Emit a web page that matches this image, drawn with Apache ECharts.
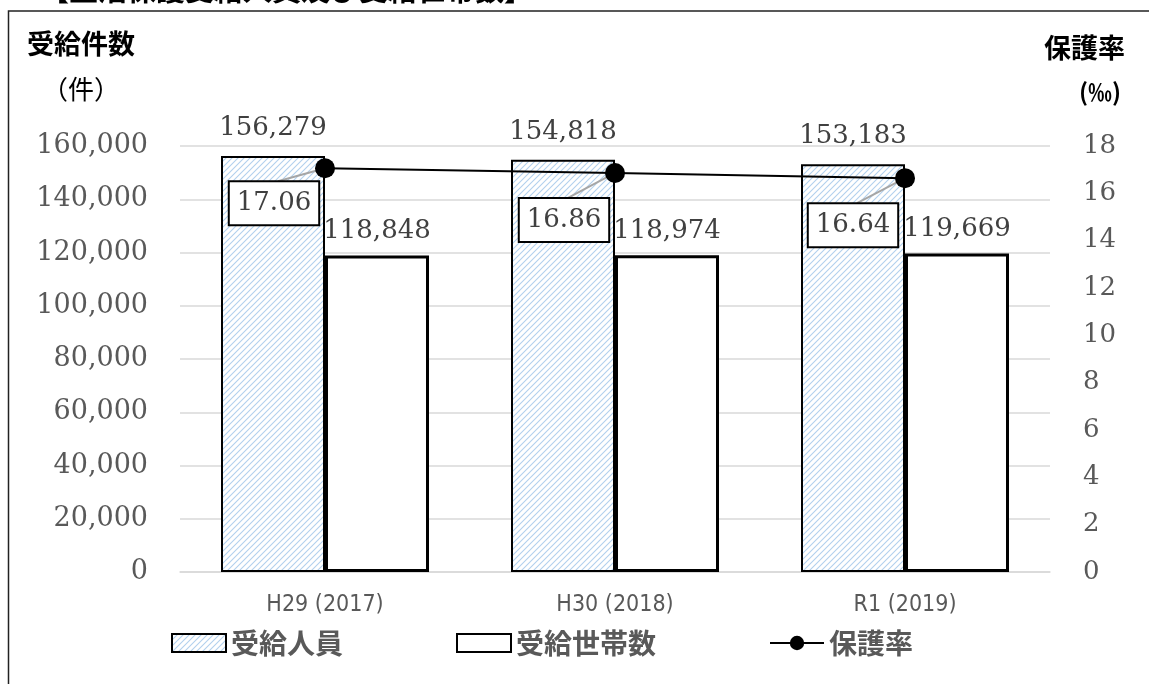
<!DOCTYPE html>
<html>
<head>
<meta charset="utf-8">
<script src="https://cdn.jsdelivr.net/npm/echarts@6/dist/echarts.min.js"></script>
<style>
html, body { margin: 0; padding: 0; background: #fff; }
#main { width: 1149px; height: 684px; }
</style>
</head>
<body>
<div id="main"></div>
<script>
// データ
var categories = ['H29 (2017)', 'H30 (2018)', 'R1 (2019)'];
var persons = [156279, 154818, 153183];     // 受給人員
var households = [118848, 118974, 119669];  // 受給世帯数
var rates = [17.06, 16.86, 16.64];          // 保護率（‰）
var leftTicks = [0, 160000, 20000];
var rightTicks = [0, 18, 2];

// 斜線パターン
var tile = document.createElement('canvas');
tile.width = 6;
tile.height = 6;
var ctx = tile.getContext('2d');
ctx.fillStyle = '#ffffff';
ctx.fillRect(0, 0, 6, 6);
ctx.strokeStyle = '#b2d0ee';
ctx.lineWidth = 1.1;
ctx.beginPath();
ctx.moveTo(0, 6); ctx.lineTo(6, 0);
ctx.moveTo(-3, 3); ctx.lineTo(3, -3);
ctx.moveTo(3, 9); ctx.lineTo(9, 3);
ctx.stroke();

var numFont = 'DejaVu Serif';
var jpFont = 'Noto Sans CJK JP';
// 保護率ラベルのずらし量
var labelOffsets = [[-51, 35], [-51, 47], [-52, 47]];
var labelBoxHalfH = 22;

var myChart = echarts.init(document.getElementById('main'));

myChart.setOption({
    animation: false,
    backgroundColor: '#ffffff',
    graphic: [
        {
            type: 'text', left: 40, top: -25,
            style: { text: '【生活保護受給人員及び受給世帯数】', font: 'bold 29px "Noto Sans CJK JP"', fill: '#000' }
        },
        {
            type: 'rect', shape: { x: 8.5, y: 11, width: 1200, height: 700 },
            style: { fill: 'none', stroke: '#222', lineWidth: 1.5 }
        },
        {
            type: 'text', left: 27, top: 30,
            style: { text: '受給件数', font: 'bold 27px "Noto Sans CJK JP"', fill: '#000' }
        },
        {
            type: 'text', left: 42, top: 76,
            style: { text: '（件）', font: '26px "Noto Sans CJK JP"', fill: '#000' }
        },
        {
            type: 'text', left: 1044, top: 34,
            style: { text: '保護率', font: 'bold 27px "Noto Sans CJK JP"', fill: '#000' }
        },
        {
            type: 'text', left: 1079, top: 80,
            style: { text: '(‰)', font: 'bold 24px "Noto Sans CJK JP"', fill: '#000' }
        }
    ],
    grid: { left: 180, right: 99, top: 146, bottom: 112 },
    legend: {
        left: 166,
        top: 624,
        itemWidth: 54,
        itemHeight: 18,
        itemGap: 113,
        textStyle: { fontFamily: jpFont, fontWeight: 'bold', fontSize: 28, color: '#595959' },
        data: [
            { name: '受給人員', icon: 'rect' },
            { name: '受給世帯数', icon: 'rect' },
            { name: '保護率' }
        ]
    },
    xAxis: {
        type: 'category',
        data: categories,
        axisTick: { show: false },
        axisLine: { lineStyle: { color: '#d9d9d9', width: 1.5 } },
        axisLabel: { margin: 22, fontFamily: 'DejaVu Sans Condensed', fontSize: 23, color: '#595959' }
    },
    yAxis: [
        {
            type: 'value',
            min: leftTicks[0], max: leftTicks[1], interval: leftTicks[2],
            axisLine: { show: false },
            axisTick: { show: false },
            splitLine: { lineStyle: { color: '#d9d9d9', width: 1.5 } },
            axisLabel: {
                margin: 32, fontFamily: numFont, fontSize: 27, color: '#595959',
                formatter: function (v) { return v.toLocaleString('en-US'); }
            }
        },
        {
            type: 'value',
            min: rightTicks[0], max: rightTicks[1], interval: rightTicks[2],
            axisLine: { show: false },
            axisTick: { show: false },
            splitLine: { show: false },
            axisLabel: { margin: 33, fontFamily: numFont, fontSize: 26, color: '#595959' }
        }
    ],
    series: [
        {
            name: '受給人員',
            type: 'bar',
            data: persons,
            barWidth: 104,
            barGap: '0%',
            itemStyle: {
                color: { image: tile, repeat: 'repeat' },
                borderColor: '#000',
                borderWidth: 2
            },
            label: {
                show: true, position: 'top', distance: 15,
                fontFamily: numFont, fontSize: 26, color: '#404040',
                formatter: function (p) { return p.value.toLocaleString('en-US'); }
            }
        },
        {
            name: '受給世帯数',
            type: 'bar',
            data: households,
            barWidth: 104,
            itemStyle: { color: '#ffffff', borderColor: '#000', borderWidth: 3 },
            label: {
                show: true, position: 'top', distance: 11,
                fontFamily: numFont, fontSize: 26, color: '#404040',
                formatter: function (p) { return p.value.toLocaleString('en-US'); }
            }
        },
        {
            // 引き出し線
            name: 'leader',
            type: 'custom',
            yAxisIndex: 1,
            data: rates.map(function (v, i) { return [i, v]; }),
            z: 4,
            silent: true,
            renderItem: function (params, api) {
                var pt = api.coord([api.value(0), api.value(1)]);
                var o = labelOffsets[params.dataIndex];
                return {
                    type: 'line',
                    shape: { x1: pt[0], y1: pt[1], x2: pt[0] + o[0] + 4, y2: pt[1] + o[1] - labelBoxHalfH },
                    style: { stroke: '#a6a6a6', lineWidth: 2 }
                };
            }
        },
        {
            name: '保護率',
            type: 'line',
            yAxisIndex: 1,
            data: rates,
            symbol: 'circle',
            symbolSize: 20,
            lineStyle: { color: '#000', width: 2 },
            itemStyle: { color: '#000' },
            z: 5,
            label: {
                show: true, position: 'inside',
                fontFamily: numFont, fontSize: 26, color: '#404040', lineHeight: 30,
                backgroundColor: '#fff', borderColor: '#000', borderWidth: 2,
                padding: [6, 7],
                formatter: function (p) { return p.value.toFixed(2); }
            },
            labelLayout: function (params) {
                var o = labelOffsets[params.dataIndex];
                return { dx: o[0], dy: o[1] };
            }
        }
    ]
});
</script>
</body>
</html>
